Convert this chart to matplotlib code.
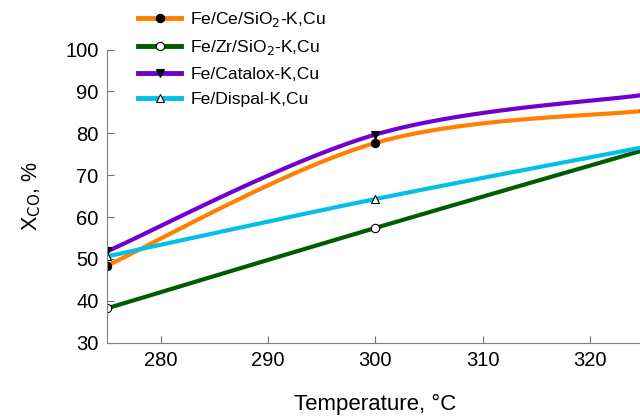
import numpy as np
import matplotlib
matplotlib.use("Agg")
import matplotlib.pyplot as plt

plt.rcParams["font.family"] = ["Liberation Sans", "DejaVu Sans"]

# ---------------------------------------------------------------------------
# Data
# ---------------------------------------------------------------------------
temperature = [275, 300, 325]
x_ce = [48.4, 77.7, 85.4]
x_zr = [38.2, 57.4, 76.0]
x_catalox = [51.8, 79.7, 89.2]
x_dispal = [50.6, 64.3, 76.7]

labels = ["Fe/Ce/SiO$_2$-K,Cu", "Fe/Zr/SiO$_2$-K,Cu",
          "Fe/Catalox-K,Cu", "Fe/Dispal-K,Cu"]
colors = ["#FF8000", "#005C00", "#7000D0", "#00C0E8"]
markers = [("o", "black"), ("o", "white"), ("v", "black"), ("^", "white")]


def smooth(x, y, n=60):
    """Excel-like smoothed line (Catmull-Rom style Bezier)."""
    pts = np.column_stack([x, y]).astype(float)
    out = []
    for i in range(len(pts) - 1):
        p0 = pts[max(i - 1, 0)]
        p1 = pts[i]
        p2 = pts[i + 1]
        p3 = pts[min(i + 2, len(pts) - 1)]
        c1 = p1 + (p2 - p0) / 6
        c2 = p2 - (p3 - p1) / 6
        t = np.linspace(0, 1, n)[:, None]
        seg = ((1 - t) ** 3 * p1 + 3 * (1 - t) ** 2 * t * c1
               + 3 * (1 - t) * t ** 2 * c2 + t ** 3 * p2)
        out.append(seg if i == 0 else seg[1:])
    out = np.vstack(out)
    return out[:, 0], out[:, 1]


fig = plt.figure(figsize=(6.4, 4.2), dpi=100)
ax = fig.add_axes([0.167, 0.184, 0.839, 0.698])

for y, lab, col, (mk, fc) in zip([x_ce, x_zr, x_catalox, x_dispal],
                                 labels, colors, markers):
    sx, sy = smooth(temperature, y)
    ax.plot(sx, sy, color=col, lw=3, solid_capstyle="butt")
    ax.plot(temperature, y, ls="none", marker=mk, ms=6,
            mfc=fc, mec="black", mew=0.8)
    ax.plot([], [], color=col, lw=3.5, marker=mk, ms=6,
            mfc=fc, mec="black", mew=0.8, label=lab)

ax.set_xlim(275, 325)
ax.set_ylim(30, 100)
ax.set_xticks([280, 290, 300, 310, 320])
ax.set_yticks(range(30, 101, 10))
ax.tick_params(direction="in", length=5, width=0.8, color="#707070",
               labelsize=14.5, pad=6)
for side in ("top", "right"):
    ax.spines[side].set_visible(False)
for side in ("left", "bottom"):
    ax.spines[side].set_color("#808080")

ax.set_xlabel("Temperature, °C", fontsize=16, labelpad=17)
ax.set_ylabel("X$_{\\mathrm{CO}}$, %", fontsize=15.5, labelpad=16)

fig.legend(loc="upper left", bbox_to_anchor=(0.2, 1.0), frameon=False,
           fontsize=12.6, handlelength=2.5, labelspacing=0.55,
           handletextpad=0.5, borderaxespad=0.15)

fig.savefig("out.png", dpi=100)
